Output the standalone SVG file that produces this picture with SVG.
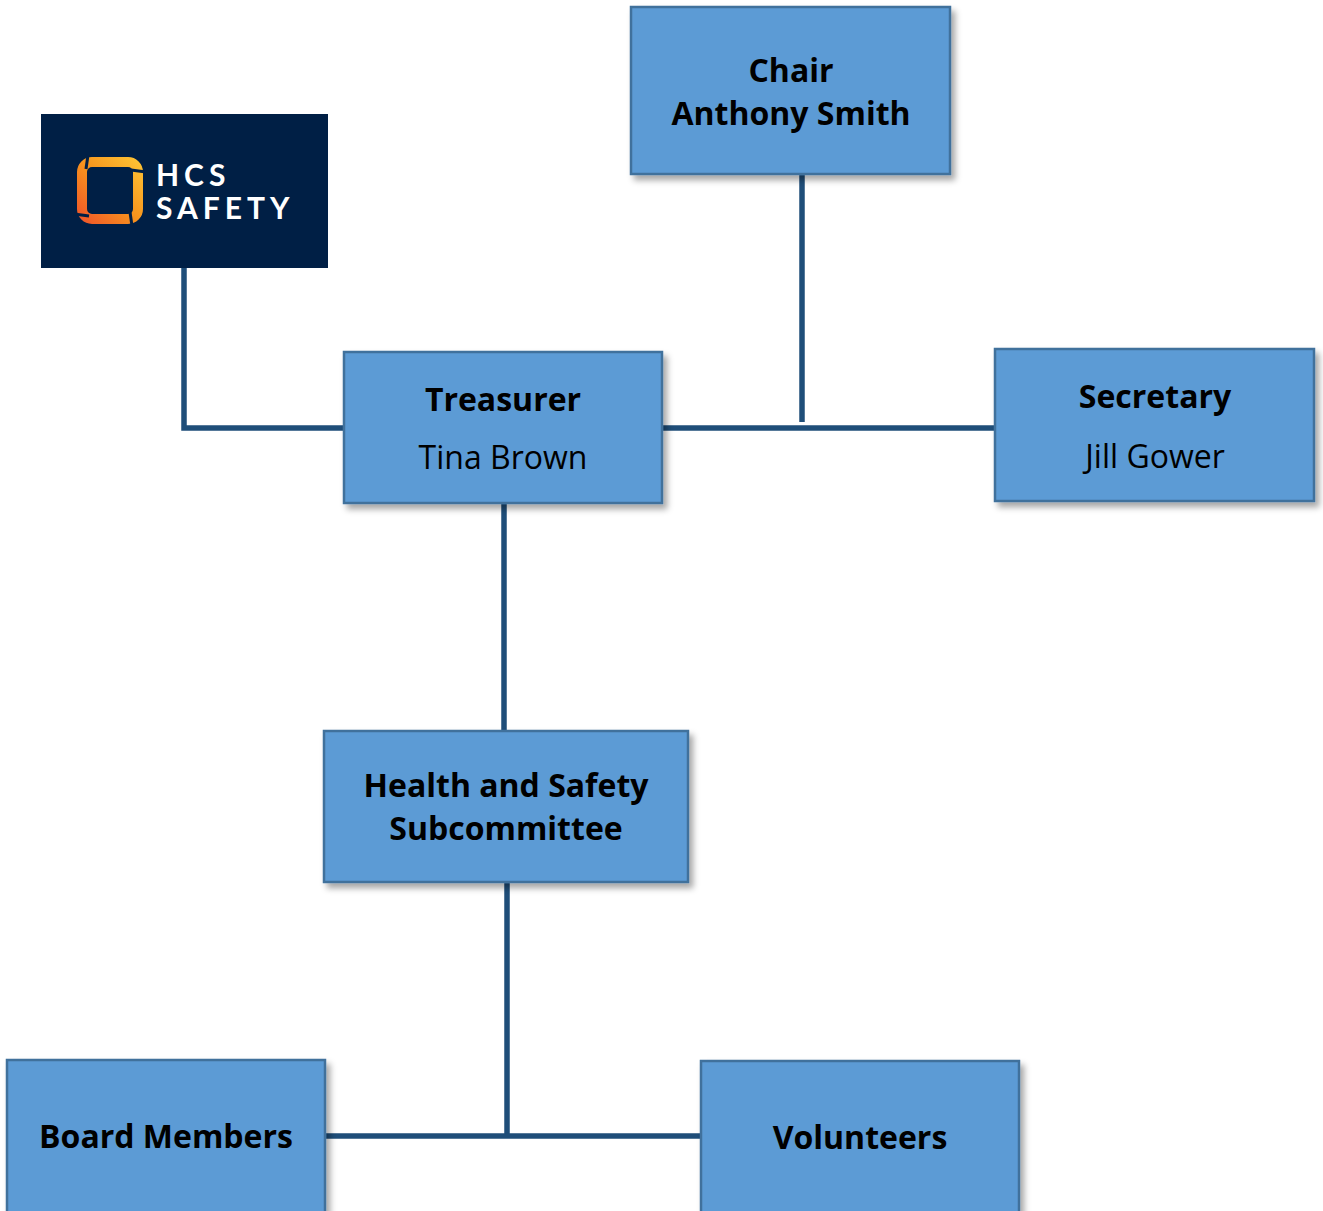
<svg xmlns="http://www.w3.org/2000/svg" width="1323" height="1211" viewBox="0 0 1323 1211">
<defs>
<filter id="sh" x="-10%" y="-10%" width="125%" height="130%">
<feDropShadow dx="4" dy="5" stdDeviation="3" flood-color="#000" flood-opacity="0.35"/>
</filter>
<linearGradient id="og" x1="0" y1="1" x2="1" y2="0">
<stop offset="0" stop-color="#F05A28"/>
<stop offset="0.5" stop-color="#F7941D"/>
<stop offset="1" stop-color="#FDC033"/>
</linearGradient>
<style>
.box{fill:#5B9BD5;stroke:#41719C;stroke-width:2.5;filter:url(#sh)}
.b{font-family:"Open Sans","DejaVu Sans",sans-serif;font-weight:700;font-size:32px;fill:#000;text-anchor:middle}
.r{font-family:"Open Sans","DejaVu Sans",sans-serif;font-weight:400;font-size:32px;fill:#000;text-anchor:middle}
.c{fill:none;stroke:#1F4E79;stroke-width:5.5}
.lt{font-family:Lato,"Open Sans",sans-serif;font-weight:700;font-size:30px;fill:#fff;letter-spacing:5px}
</style>
</defs>
<rect width="1323" height="1211" fill="#fff"/>
<g id="connectors">
<polyline class="c" points="184,268 184,428 344,428"/>
<line class="c" x1="662" y1="428" x2="995" y2="428"/>
<line class="c" x1="802" y1="174" x2="802" y2="422"/>
<line class="c" x1="504" y1="503" x2="504" y2="730"/>
<line class="c" x1="507" y1="882" x2="507" y2="1136"/>
<line class="c" x1="325" y1="1136" x2="701" y2="1136"/>
</g>
<g id="logo">
<rect x="41" y="114" width="287" height="154" fill="#001F45"/>
<rect x="82" y="162" width="56" height="57" rx="10" fill="none" stroke="url(#og)" stroke-width="10"/>
<g stroke="#001F45" stroke-width="3">
<line x1="88" y1="155" x2="86" y2="169"/>
<line x1="131" y1="170" x2="146" y2="172"/>
<line x1="130" y1="212" x2="132" y2="226"/>
<line x1="74" y1="214" x2="89" y2="216"/>
</g>
<text class="lt"><tspan x="156" y="186">HCS</tspan><tspan x="156" y="219">SAFETY</tspan></text>
</g>
<g id="chair">
<rect class="box" x="631" y="7" width="319" height="167"/>
<text class="b" x="791" y="82">Chair</text>
<text class="b" x="791" y="125">Anthony Smith</text>
</g>
<g id="treasurer">
<rect class="box" x="344" y="352" width="318" height="151"/>
<text class="b" x="503" y="411">Treasurer</text>
<text class="r" x="503" y="469">Tina Brown</text>
</g>
<g id="secretary">
<rect class="box" x="995" y="349" width="319" height="152"/>
<text class="b" x="1155" y="408">Secretary</text>
<text class="r" x="1155" y="468">Jill Gower</text>
</g>
<g id="hs">
<rect class="box" x="324" y="731" width="364" height="151"/>
<text class="b" x="506" y="797">Health and Safety</text>
<text class="b" x="506" y="840">Subcommittee</text>
</g>
<g id="board">
<rect class="box" x="7" y="1060" width="318" height="160"/>
<text class="b" x="166" y="1148">Board Members</text>
</g>
<g id="volunteers">
<rect class="box" x="701" y="1061" width="318" height="160"/>
<text class="b" x="860" y="1149">Volunteers</text>
</g>
</svg>
